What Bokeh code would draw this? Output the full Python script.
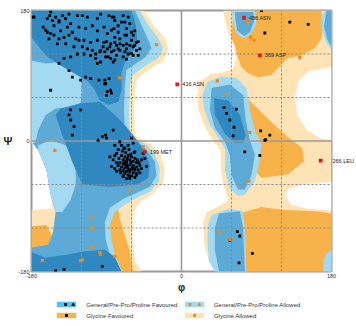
from bokeh.plotting import figure
from bokeh.models import FixedTicker, Range1d, LinearAxis
from bokeh.layouts import column
from bokeh.embed import file_html
from bokeh.resources import INLINE
from bokeh.core.properties import value

FONT = "Liberation Sans"

# ---------------- axis / grid values ----------------
axis_ticks = [-180, 0, 180]
tick_labels = {-180: "-180", 0: "0", 180: "180"}
dotted_grid = [-120, -60, 60, 120]
zero_line = [0]
x_title = "φ"
y_title = "Ψ"

# ---------------- region outlines (phi, psi) ----------------
gly_allowed = [
    [(-180, 180), (-45, 180), (-34, 160), (-20, 142), (-16, 128), (-22, 110), (-40, 98), (-52, 88), (-56, 77),
     (-57, 43), (-56, 8), (-46, 0), (-35, -6), (-26, -19), (-20, -37), (-22, -58), (-34, -72), (-50, -84),
     (-58, -98), (-59, -129), (-56, -166), (-47, -180), (-180, -180), (-180, -95), (-155, -93), (-157, -74),
     (-162, -40), (-172, -12), (-180, -1)],
    [(50, 180), (180, 180), (180, -180), (40, -180), (33, -166), (27, -140), (26, -112), (30, -98), (45, -90),
     (56, -82), (50, -60), (47, -35), (47, -12), (38, 0), (28, 20), (20, 45), (19, 65), (22, 82), (35, 92),
     (50, 95), (62, 100), (66, 114), (62, 132), (56, 150), (52, 166)],
]
empty_holes = [
    [(180, 102), (152, 96), (140, 82), (136, 60), (139, 36), (151, 14), (168, 3), (180, 2)],
    [(180, -56), (145, -60), (128, -66), (124, -76), (132, -88), (150, -93), (180, -96)],
]
gly_favoured = [
    [(62, 180), (168, 180), (170, 160), (168, 142), (160, 128), (144, 118), (127, 114), (115, 100), (108, 91),
     (92, 88), (80, 93), (72, 102), (68, 114), (64, 132), (60, 142)],
    [(78, 60), (100, 35), (125, 8), (145, -10), (147, -28), (128, -46), (96, -51), (88, -40), (86, -10), (82, 20)],
    [(70, -100), (96, -91), (124, -95), (160, -97), (180, -100), (180, -180), (70, -180)],
    [(-100, -80), (-76, -92), (-74, -108), (-68, -130), (-62, -152), (-58, -180), (-90, -180), (-95, -120)],
    [(-180, -118), (-162, -116), (-155, -132), (-160, -147), (-180, -148)],
]
gen_allowed = [
    [(-180, 180), (-50, 180), (-40, 160), (-28, 142), (-22, 128), (-28, 114), (-46, 102), (-58, 91), (-62, 77),
     (-63, 43), (-62, 8), (-52, 1), (-41, -6), (-32, -19), (-26, -37), (-27, -56), (-38, -70), (-53, -78),
     (-68, -88), (-80, -98), (-86, -115), (-84, -136), (-80, -157), (-71, -180), (-180, -180), (-180, -147),
     (-160, -143), (-154, -125), (-151, -98), (-157, -74), (-162, -40), (-172, -12), (-180, -1)],
    [(48, 89), (66, 87), (78, 73), (82, 43), (88, 15), (96, -5), (94, -26), (88, -56), (76, -74), (68, -76),
     (58, -65), (52, -40), (53, -12), (44, 5), (34, 22), (27, 45), (25, 63), (31, 81)],
    [(36, -102), (58, -93), (74, -97), (76, -122), (78, -180), (40, -180), (33, -166), (31, -136), (32, -115)],
    [(60, 180), (88, 180), (90, 164), (84, 148), (74, 141), (65, 150), (62, 166)],
    [(172, 180), (180, 180), (180, 125), (174, 135), (168, 155), (168, 170)],
    [(180, -150), (180, -180), (170, -180), (170, -165), (174, -155)],
]
gen_middle = [
    [(-180, 180), (-56, 180), (-48, 160), (-40, 140), (-36, 128), (-44, 115), (-56, 106), (-66, 98), (-68, 77),
     (-69, 43), (-68, 8), (-55, 0), (-42, -12), (-32, -28), (-30, -48), (-38, -63), (-53, -71), (-70, -80),
     (-86, -92), (-92, -112), (-91, -136), (-86, -157), (-78, -180), (-180, -180), (-180, -147), (-160, -143),
     (-154, -125), (-151, -98), (-157, -74), (-162, -40), (-172, -12), (-180, -1)],
    [(36, 73), (58, 78), (74, 63), (77, 29), (82, 1), (88, -19), (84, -47), (76, -67), (68, -67), (60, -47),
     (58, -19), (52, -1), (40, 18), (34, 43)],
    [(45, -100), (70, -97), (74, -120), (76, -180), (45, -180), (40, -150), (40, -120)],
    [(64, 178), (86, 178), (87, 164), (82, 150), (75, 145), (67, 152), (65, 166)],
    [(174, 180), (180, 180), (180, 130), (175, 140), (171, 158)],
]
gen_light_pockets = [
    [(-180, 111), (-163, 107), (-145, 109), (-127, 103), (-121, 91), (-119, 70), (-121, 52), (-133, 47),
     (-151, 45), (-163, 36), (-172, 15), (-175, -1), (-180, -5)],
    [(-172, -6), (-157, 1), (-139, -6), (-127, -26), (-127, -60), (-133, -81), (-143, -98), (-151, -98),
     (-157, -74), (-162, -40), (-172, -12)],
]
gen_favoured = [
    [(-180, 180), (-60, 180), (-55, 160), (-53, 140), (-58, 124), (-66, 112), (-72, 96), (-72, 70), (-76, 54),
     (-88, 50), (-98, 56), (-104, 70), (-112, 82), (-127, 92), (-145, 104), (-163, 118), (-180, 143)],
    [(-145, 45), (-121, 52), (-98, 54), (-80, 36), (-68, 22), (-58, 8), (-46, -10), (-38, -33), (-40, -51),
     (-53, -60), (-86, -63), (-119, -60), (-131, -29), (-143, 8), (-151, 36)],
    [(-180, -153), (-163, -161), (-139, -157), (-115, -152), (-92, -150), (-80, -160), (-72, -180), (-180, -180)],
    [(39, 59), (56, 56), (70, 36), (77, 8), (74, -2), (64, -2), (52, 10), (40, 36)],
]

# ---------------- residues (phi, psi) ----------------
beta_residues = [
    (-178, 171), (-157, 178), (-158, 173), (-161, 169), (-151, 171), (-143, 173), (-139, 169), (-135, 175),
    (-125, 173), (-119, 173), (-113, 171), (-101, 169), (-97, 175), (-87, 173), (-83, 171), (-80, 166),
    (-72, 164), (-64, 171), (-62, 162), (-66, 155), (-60, 150), (-58, 146), (-56, 152), (-166, 157),
    (-161, 150), (-153, 159), (-147, 164), (-145, 152), (-137, 157), (-133, 162), (-131, 150), (-123, 157),
    (-115, 155), (-107, 159), (-101, 152), (-93, 157), (-89, 148), (-81, 155), (-76, 150), (-68, 146),
    (-60, 139), (-54, 136), (-56, 132), (-66, 134), (-74, 134), (-80, 136), (-85, 134), (-93, 136),
    (-101, 139), (-109, 136), (-117, 139), (-123, 139), (-127, 141), (-135, 146), (-141, 143), (-147, 141),
    (-153, 146), (-157, 148), (-149, 134), (-139, 134), (-129, 130), (-119, 130), (-113, 127), (-107, 125),
    (-103, 120), (-97, 125), (-89, 127), (-81, 125), (-74, 125), (-66, 127), (-58, 130), (-54, 125),
    (-109, 118), (-103, 114), (-101, 107), (-97, 109), (-91, 116), (-85, 114), (-78, 118), (-70, 116),
    (-64, 120), (-117, 120), (-125, 120), (-133, 116), (-141, 114), (-147, 107), (-135, 97), (-131, 88),
    (-121, 84), (-115, 88), (-109, 86), (-99, 84), (-91, 79), (-87, 86), (-89, 68), (-85, 70), (-157, 70),
    (-133, 43), (-121, 43), (-135, 36), (-129, 20), (-95, 6), (-91, 8),
    (-81, 171), (-70, 173), (-68, 164), (-76, 159), (-84, 153), (-80, 143), (-74, 141), (-66, 146),
    (-52, 137), (-90, 137), (-94, 130), (-86, 130), (-78, 132), (-70, 132), (-62, 132), (-50, 127),
    (-98, 123), (-92, 123), (-84, 123), (-76, 127), (-68, 123), (-60, 121), (-52, 118), (-88, 116),
    (-80, 112), (-66, 113), (-58, 118), (-82, 109), (-92, 84), (-92, 79), (-90, 63), (-84, 66), (-90, 4),
    (-82, 15), (-177, 171), (-155, 166), (-147, 166), (-163, 153), (-159, 141), (-133, 29), (-131, 8),
    (-151, -179), (-141, -177), (-95, -173),
]
alpha_residues = [
    (-80, -6), (-74, -1), (-68, -10), (-78, -17), (-86, -22), (-82, -26), (-84, -35), (-80, -38),
    (-46, -17), (-42, -35), (-48, -26), (-50, -44), (-54, -47), (-62, -49), (-70, -49), (-78, -42),
    (-58, -3), (-56, -15), (-60, 4), (-44, -24),
    (-72, -20), (-68, -22), (-64, -20), (-60, -22), (-56, -24), (-70, -26), (-66, -27), (-62, -26),
    (-58, -28), (-54, -30), (-74, -30), (-70, -32), (-66, -31), (-62, -33), (-58, -34), (-54, -36),
    (-50, -34), (-72, -36), (-68, -37), (-64, -38), (-60, -39), (-56, -40), (-52, -40), (-70, -41),
    (-66, -42), (-62, -43), (-58, -44), (-54, -45), (-64, -47), (-60, -48), (-68, -45), (-74, -40),
    (-76, -34), (-65, -35), (-61, -30), (-57, -38), (-63, -40), (-59, -36), (-67, -33), (-69, -29),
    (-65, -24), (-61, -18), (-67, -16), (-71, -14), (-75, -24), (-53, -26), (-51, -30), (-57, -16),
    (-63, -12), (-69, -10), (-73, -44), (-56, -50), (-48, -38), (-78, -30), (-80, -20), (-76, -12),
    (-66, -52), (-62, -52), (-70, -48), (-72, -6), (-64, -6),
]
right_residues = [
    (96, 180), (130, 164), (152, 161), (100, 149), (51, 46), (54, 38), (66, 44), (58, 29), (63, 19),
    (62, 7), (95, 14), (106, 8), (101, 2), (100, 1), (76, -15), (94, -20), (67, -125), (70, -131),
    (58, -137), (85, -155), (69, -168),
]
proline_residues = [(-100, 1)]
allowed_residues = [
    (-30, 133), (-74, 87), (-46, -8), (-152, -13), (-62, -68), (-109, -106), (-109, -120), (-107, -121),
    (-108, -146), (-97, -156), (-80, -159), (-119, -164), (-121, -165), (-167, -165), (-98, -154),
    (79, 165), (83, 143), (87, 139), (43, 83), (54, 64), (82, 12), (142, 115), (81, -55), (46, -126),
    (58, -136),
]
outlier_phi = [75, 94, -5, -44, 167]
outlier_psi = [170, 118, 78, -15, -27]
outlier_names = ["486 ASN", "369 ASP", "416 ASN", "199 MET", "266 LEU"]

legend_labels = ["General/Pre-Pro/Proline Favoured", "General/Pre-Pro/Proline Allowed",
                 "Glycine Favoured", "Glycine Allowed"]

PEACH = "#fde3b6"
ORANGE = "#f7b349"
LIGHT = "#a3d9f1"
MED = "#5eaad6"
DARK = "#2f88bf"


def xs_ys(polys):
    return [[pt[0] for pt in poly] for poly in polys], [[pt[1] for pt in poly] for poly in polys]


p = figure(width=356, height=295, x_range=Range1d(-180, 180), y_range=Range1d(-180, 180),
           output_backend="svg", toolbar_location=None,
           min_border_left=31, min_border_right=24, min_border_top=10, min_border_bottom=23)
p.xgrid.visible = False
p.ygrid.visible = False
p.background_fill_color = "white"
p.border_fill_color = "white"
p.outline_line_color = "#9a9a9a"
p.outline_line_width = 2

for axis in (p.xaxis[0], p.yaxis[0]):
    axis.ticker = FixedTicker(ticks=axis_ticks)
    axis.major_label_overrides = tick_labels
    axis.major_label_text_font_size = "5.5px"
    axis.major_label_text_font = FONT
    axis.major_label_text_color = "#333333"
    axis.major_tick_line_color = None
    axis.minor_tick_line_color = None
    axis.major_tick_out = 0
    axis.major_tick_in = 0
    axis.minor_tick_out = 0
    axis.minor_tick_in = 0
    axis.axis_line_color = None
    axis.major_label_standoff = 2
    axis.axis_label_text_font = FONT
    axis.axis_label_text_font_style = "bold"
    axis.axis_label_text_color = "#222222"
    axis.axis_label_standoff = 1

p.xaxis.axis_label = x_title
p.xaxis.axis_label_text_font_size = "10px"
p.yaxis.axis_label = y_title
p.yaxis.axis_label_text_font_size = "11px"
p.yaxis.axis_label_standoff = 3
try:
    p.yaxis[0].axis_label_orientation = "horizontal"
except Exception:
    pass

edge_idx = [i for i, ph in enumerate(outlier_phi) if ph > 150]
inner_idx = [i for i, ph in enumerate(outlier_phi) if ph <= 150]
right_axis = LinearAxis(
    ticker=FixedTicker(ticks=[outlier_psi[i] for i in edge_idx]),
    major_label_overrides={outlier_psi[i]: outlier_names[i] for i in edge_idx},
    major_label_text_font=FONT, major_label_text_font_size="5.5px", major_label_text_color="#222222",
    major_tick_line_color=None, minor_tick_line_color=None, major_tick_out=0, major_tick_in=0,
    minor_tick_out=0, minor_tick_in=0, axis_line_color=None, major_label_standoff=1)
p.add_layout(right_axis, "right")

layers = [
    (gly_allowed, PEACH),
    (empty_holes, "white"),
    (gly_favoured, ORANGE),
    (gen_allowed, LIGHT),
    (gen_middle, MED),
    (gen_light_pockets, LIGHT),
    (gen_favoured, DARK),
]
for polys, color in layers:
    xs, ys = xs_ys(polys)
    p.patches(xs, ys, fill_color=color, line_color=None)

gx = [[v, v] for v in dotted_grid] + [[-180, 180] for v in dotted_grid]
gy = [[-180, 180] for v in dotted_grid] + [[v, v] for v in dotted_grid]
p.multi_line(gx, gy, line_color="#8a8a8a", line_width=1, line_dash="2 2")
zx = [[v, v] for v in zero_line] + [[-180, 180] for v in zero_line]
zy = [[-180, 180] for v in zero_line] + [[v, v] for v in zero_line]
p.multi_line(zx, zy, line_color="#9a9a9a", line_width=1.6)

fav = beta_residues + alpha_residues + right_residues
p.scatter([a for a, b in fav], [b for a, b in fav], marker="square", size=2.8,
          fill_color="black", line_color=None)
p.scatter([a for a, b in proline_residues], [b for a, b in proline_residues], marker="triangle",
          size=4, fill_color="black", line_color=None)
p.scatter([a for a, b in allowed_residues], [b for a, b in allowed_residues], marker="square",
          size=3.2, fill_color="#ee8a12", line_color=None)
p.scatter(outlier_phi, outlier_psi, marker="square", size=3.8, fill_color="#e01b1b", line_color=None)
p.text([outlier_phi[i] for i in inner_idx], [outlier_psi[i] for i in inner_idx],
       text=[outlier_names[i] for i in inner_idx], x_offset=5, text_baseline="middle",
       text_font=value(FONT), text_font_size="5.5px", text_color="#222222")

# ---------------- legend strip ----------------
lg = figure(width=356, height=31, x_range=Range1d(0, 356), y_range=Range1d(0, 31),
            output_backend="svg", toolbar_location=None,
            min_border_left=0, min_border_right=0, min_border_top=0, min_border_bottom=0)
lg.axis.visible = False
lg.xgrid.visible = False
lg.ygrid.visible = False
lg.outline_line_color = None
lg.rect(x=[41.5, 193.5, 41.5, 193.5], y=[22, 22, 11, 11], width=23, height=5.5,
        fill_color=["#55c3f0", LIGHT, ORANGE, PEACH], line_color=None)
lg.scatter(x=[40.5, 41.5], y=[22, 11], marker="square", size=2.8, fill_color="black", line_color=None)
lg.scatter(x=[49.5], y=[22], marker="triangle", size=4, fill_color="black", line_color=None)
lg.scatter(x=[188, 193.5], y=[22, 11], marker="square", size=2.8, fill_color="#ee8a12", line_color=None)
lg.scatter(x=[199], y=[22], marker="triangle", size=4, fill_color="#ee8a12", line_color=None)
lg.text(x=[65, 216.5, 65, 216.5], y=[22, 22, 11, 11], text=legend_labels, text_baseline="middle",
        text_font=value(FONT), text_font_size="6px", text_color="#333333")

layout = column(p, lg, spacing=0)
open("out.html", "w").write(file_html(layout, INLINE))
